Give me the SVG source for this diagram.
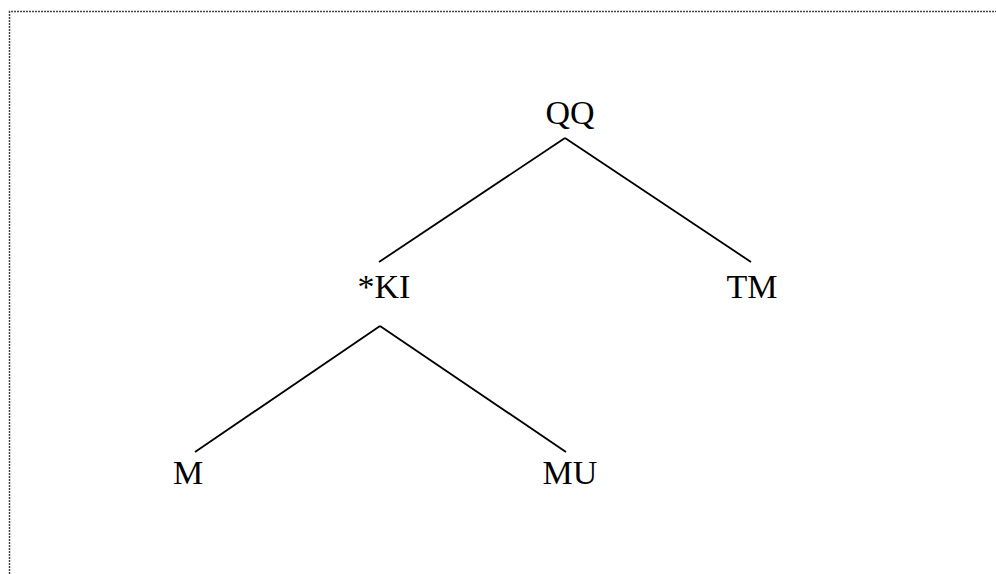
<svg xmlns="http://www.w3.org/2000/svg" width="996" height="574" viewBox="0 0 996 574">
<style>
.lbl{font-family:"Liberation Serif","Times New Roman",serif;font-size:34px;fill:#000;text-anchor:middle}
.edge{stroke:#000;stroke-width:1.8;fill:none}
.frame{stroke:#444;stroke-width:1.5;stroke-dasharray:2 1;fill:none}
</style>
<rect width="996" height="574" fill="#fff"/>
<path class="frame" d="M9.5 574 V11.5 H996"/>
<g id="connectors">
<line class="edge" x1="565" y1="138" x2="379" y2="262"/>
<line class="edge" x1="565" y1="138" x2="751" y2="262"/>
<line class="edge" x1="380" y1="326" x2="195" y2="452"/>
<line class="edge" x1="380" y1="326" x2="566" y2="452"/>
</g>
<g id="node-QQ"><text class="lbl" x="570" y="124">QQ</text></g>
<g id="node-KI"><text class="lbl" x="384" y="298">*KI</text></g>
<g id="node-TM"><text class="lbl" x="752" y="298">TM</text></g>
<g id="node-M"><text class="lbl" x="188" y="484">M</text></g>
<g id="node-MU"><text class="lbl" x="570" y="484">MU</text></g>
</svg>
